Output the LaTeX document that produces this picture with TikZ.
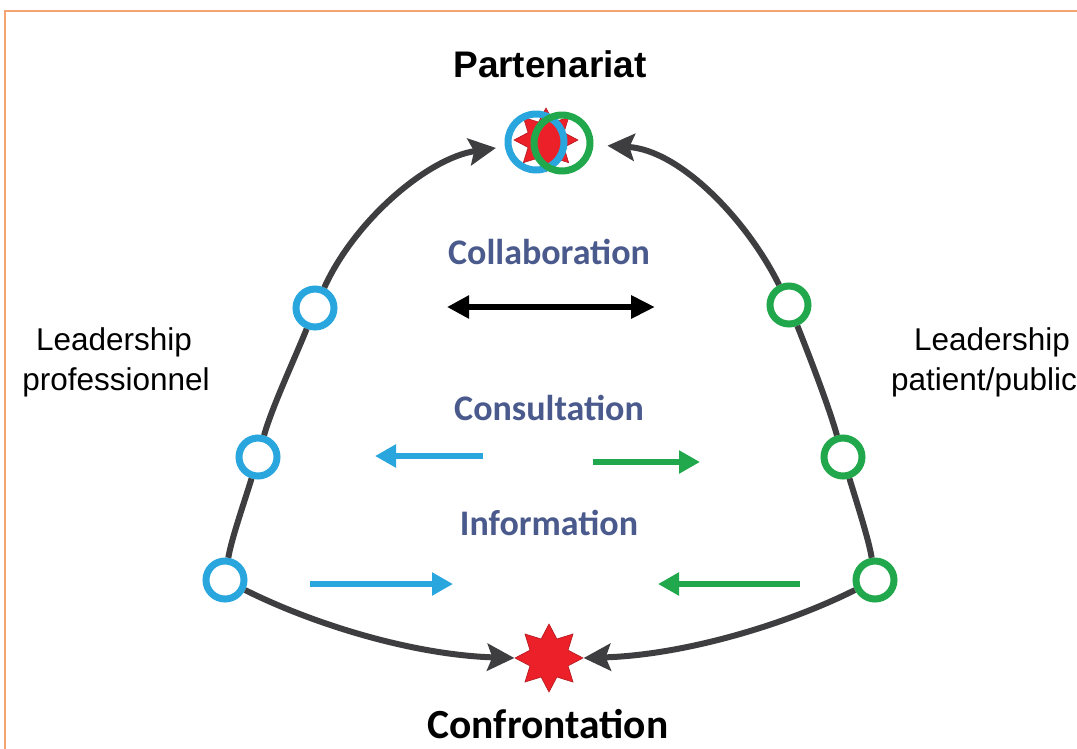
\documentclass[tikz,border=0pt]{standalone}
\usepackage{fontspec}
\setmainfont{Liberation Sans}
\newfontfamily\carlito{Carlito}
\usetikzlibrary{arrows.meta,shapes.geometric}
\definecolor{ablue}{HTML}{29A6DE}
\definecolor{agreen}{HTML}{22A84C}
\definecolor{agray}{HTML}{3E3E40}
\definecolor{atitle}{HTML}{4A5A8C}
\definecolor{ared}{HTML}{EC2029}
\definecolor{aorange}{HTML}{F4A472}
\begin{document}
\begin{tikzpicture}[x=1pt,y=-1pt,
  ring/.style={circle,draw=#1,line width=7pt,fill=white,minimum size=38pt,inner sep=0pt},
  arch/.style={draw=agray,line width=6pt},
  archtip/.style={-{Stealth[length=27pt,width=27pt,inset=5pt]}},
  flow/.style={line width=6pt,draw=#1,-{Triangle[length=21pt,width=22pt]}},
  starred/.style={star,star points=8,star point ratio=1.65,fill=ared,draw=ared!75!black,line width=0.6pt,inner sep=0pt},
  stage/.style={font=\carlito\bfseries\fontsize{36}{40}\selectfont,text=atitle},
  lead/.style={font=\fontsize{31.5}{36}\selectfont,anchor=base},
  pole/.style={anchor=base}
]
\clip (0,0) rectangle (1077,748);
\fill[white] (0,0) rectangle (1077,748);
\draw[aorange,line width=1.6pt] (5,760) -- (5,11) -- (1090,11);

% titles
\node[pole,font=\bfseries\fontsize{37}{42}\selectfont] (tpart) at (550,77) {Partenariat};
\node[pole,font=\carlito\bfseries\fontsize{41.5}{46}\selectfont] (tconf) at (548,738) {Confrontation};

\node[stage] (tcol) at (549,252) {Collaboration};
\node[stage] (tcons) at (549,408) {Consultation};
\node[stage] (tinfo) at (549,523) {Information};

\node[lead] (lp1) at (114,350) {Leadership};
\node[lead] (lp2) at (116,390) {professionnel};
\node[lead] (lr1) at (992,350) {Leadership};
\node[lead] (lr2) at (984,390) {patient/public};

% top symbol
\node[starred,minimum size=64pt] (pstar) at (546,140) {};
\begin{scope}
  \clip (536,142) circle (28pt);
  \fill[ared] (562,143) circle (28pt);
\end{scope}
\node[ring=ablue,minimum size=56pt,fill=none] (pblue) at (536,142) {};
\node[ring=agreen,minimum size=56pt,fill=none] (pgreen) at (562,143) {};

% bottom symbol
\node[starred,minimum size=68pt] (conf) at (549,658) {};

% rings
\node[ring=ablue] (b1) at (225,580) {};
\node[ring=ablue] (b2) at (258,457) {};
\node[ring=ablue] (b3) at (315,308) {};
\node[ring=agreen] (g1) at (875,580) {};
\node[ring=agreen] (g2) at (843,457) {};
\node[ring=agreen] (g3) at (789,305) {};

% left arch
\draw[arch] (b1) .. controls +(6,-40) and +(-12,40) .. (b2);
\draw[arch] (b2) .. controls +(14,-50) and +(-20,50) .. (b3);
\draw[arch,archtip,shorten >=9pt] (b3) .. controls +(40,-88) and +(-108,16) .. (pblue);
% right arch
\draw[arch] (g1) .. controls +(-6,-40) and +(12,40) .. (g2);
\draw[arch] (g2) .. controls +(-14,-50) and +(20,50) .. (g3);
\draw[arch,archtip,shorten >=14pt] (g3) .. controls +(-42,-85) and +(118,7) .. (pgreen);
% lower curves
\draw[arch,archtip] (b1) .. controls +(90,45) and +(-100,-3) .. (conf.west);
\draw[arch,archtip] (g1) .. controls +(-90,45) and +(100,-3) .. (conf.east);

% middle arrows
\coordinate (c1) at (447,307);
\coordinate (c2) at (655,307);
\draw[line width=6pt,{Triangle[length=22pt,width=22pt]}-{Triangle[length=24pt,width=22pt]}] (c1) -- (c2);

\coordinate (s1) at (483,456);
\coordinate (s2) at (375,456);
\draw[flow=ablue] (s1) -- (s2);
\coordinate (s3) at (593,462);
\coordinate (s4) at (700,462);
\draw[flow=agreen] (s3) -- (s4);

\coordinate (i1) at (310,584);
\coordinate (i2) at (453,584);
\draw[flow=ablue] (i1) -- (i2);
\coordinate (i3) at (800,584);
\coordinate (i4) at (658,584);
\draw[flow=agreen] (i3) -- (i4);
\end{tikzpicture}
\end{document}
